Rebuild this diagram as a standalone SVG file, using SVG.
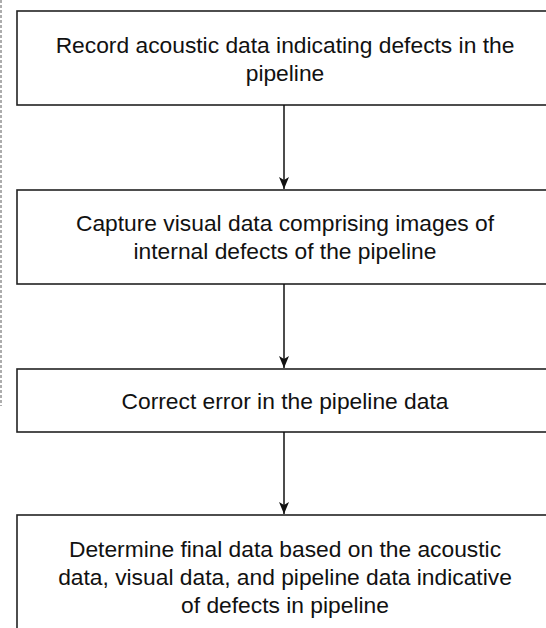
<svg xmlns="http://www.w3.org/2000/svg" width="546" height="628" viewBox="0 0 546 628">
<style>
.box{fill:#fff;stroke:#222;stroke-width:1.6}
.t{font-family:"Liberation Sans",Arial,sans-serif;font-size:22.8px;fill:#111;text-anchor:middle}
.c{stroke:#111;stroke-width:1.5;fill:none}
</style>
<defs>
<marker id="ah" viewBox="0 0 12 10" refX="12" refY="5" markerWidth="12" markerHeight="10" markerUnits="userSpaceOnUse" orient="auto">
<path d="M0,0 L3,5 L0,10 L12,5 Z" fill="#111"/>
</marker>
</defs>
<rect width="546" height="628" fill="#fff"/>
<line x1="1" y1="0" x2="1" y2="406" stroke="#777" stroke-width="1.2" stroke-dasharray="3,2"/>
<g id="n1">
<rect class="box" x="17" y="11" width="540" height="94"/>
<text class="t" x="285" y="53">Record acoustic data indicating defects in the</text>
<text class="t" x="285" y="81">pipeline</text>
</g>
<g id="n2">
<rect class="box" x="17" y="190" width="540" height="94"/>
<text class="t" x="285" y="231">Capture visual data comprising images of</text>
<text class="t" x="285" y="259">internal defects of the pipeline</text>
</g>
<g id="n3">
<rect class="box" x="17" y="369" width="540" height="63"/>
<text class="t" x="285" y="409">Correct error in the pipeline data</text>
</g>
<g id="n4">
<rect class="box" x="17" y="515" width="540" height="130"/>
<text class="t" x="285" y="557">Determine final data based on the acoustic</text>
<text class="t" x="285" y="585">data, visual data, and pipeline data indicative</text>
<text class="t" x="285" y="613">of defects in pipeline</text>
</g>
<g id="connectors">
<line class="c" x1="284" y1="105" x2="284" y2="189" marker-end="url(#ah)"/>
<line class="c" x1="284" y1="284" x2="284" y2="368" marker-end="url(#ah)"/>
<line class="c" x1="284" y1="432" x2="284" y2="514" marker-end="url(#ah)"/>
</g>
</svg>
